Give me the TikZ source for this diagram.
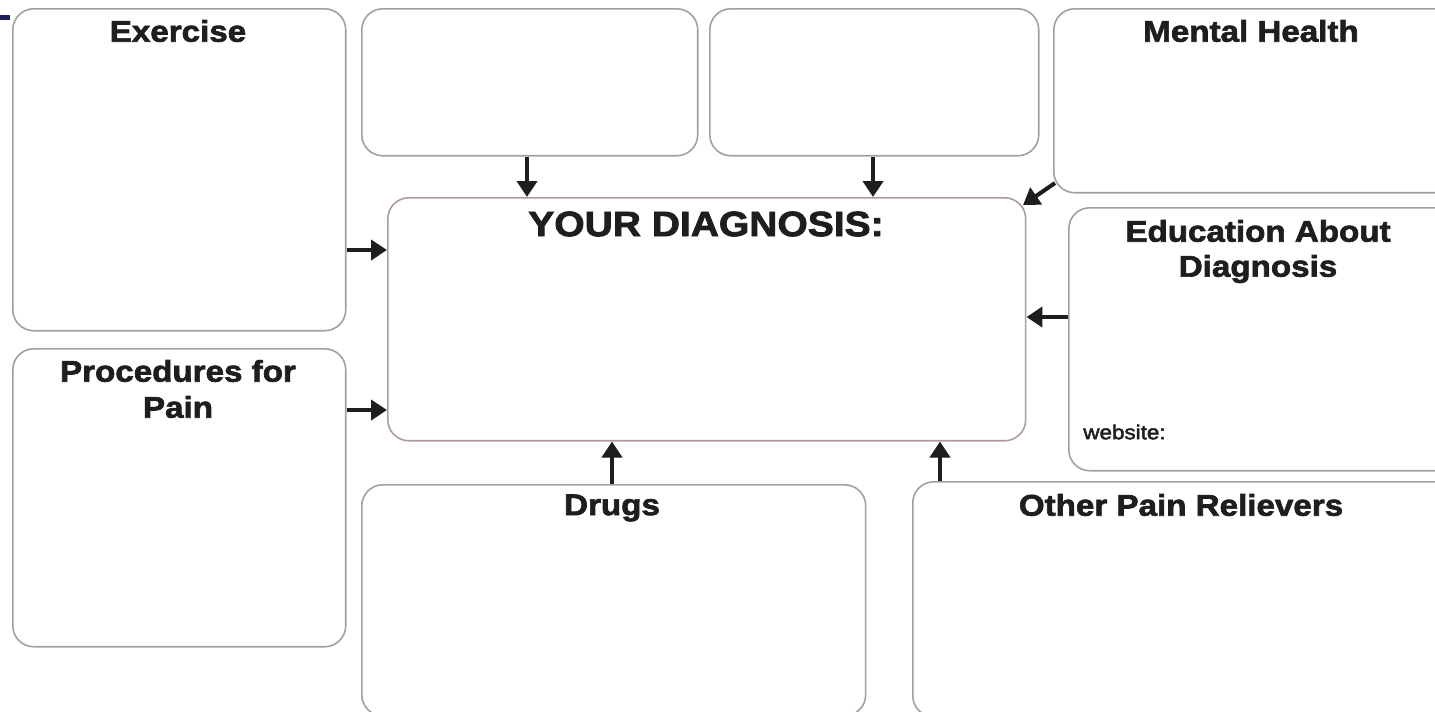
\documentclass[tikz,border=0pt]{standalone}
\usepackage{fontspec}
\setmainfont{Liberation Sans}[FakeStretch=1.11,BoldFeatures={FakeBold=2.2}]
\usetikzlibrary{arrows.meta,calc}
\definecolor{boxgray}{RGB}{160,160,160}
\definecolor{ctrline}{RGB}{175,155,155}
\definecolor{inkdark}{RGB}{30,30,30}
\definecolor{navymark}{RGB}{30,30,95}
\begin{document}
\begin{tikzpicture}[x=0.02cm,y=-0.02cm,
  panel/.style={draw=boxgray,line width=0.9pt,rounded corners=0.42cm,rectangle,anchor=north west,inner sep=0pt},
  ctrpanel/.style={draw=ctrline,line width=0.9pt,rounded corners=0.42cm,rectangle,anchor=north west,inner sep=0pt},
  ttl/.style={font=\bfseries\fontsize{17}{19}\selectfont,text=inkdark,align=center,inner sep=0pt},
  bigttl/.style={font=\bfseries\fontsize{20}{22}\selectfont,text=inkdark,inner sep=0pt},
  small/.style={font=\fontsize{11.5}{13}\selectfont\addfontfeature{FakeBold=2.2},text=inkdark,inner sep=0pt},
  arr/.style={draw=inkdark,line width=2.3pt,-{Triangle[length=3.2mm,width=4mm]}}
]
\useasboundingbox (0,0) rectangle (1435,711);
\clip (0,0) rectangle (1435,711);
\fill[white] (0,0) rectangle (1435,711);
\fill[navymark] (0,15) rectangle (10,20);
% boxes
\node[panel,minimum width=6.66cm,minimum height=6.44cm] (ex) at (12,8) {};
\node[panel,minimum width=6.72cm,minimum height=2.94cm] (b2) at (361,8) {};
\node[panel,minimum width=6.58cm,minimum height=2.94cm] (b3) at (709,8) {};
\node[panel,minimum width=8.2cm,minimum height=3.68cm] (mh) at (1053,8) {};
\node[ctrpanel,minimum width=12.76cm,minimum height=4.86cm] (ctr) at (387,197) {};
\node[panel,minimum width=7.9cm,minimum height=5.26cm] (edu) at (1068,207) {};
\node[panel,minimum width=6.66cm,minimum height=5.96cm] (proc) at (12,348) {};
\node[panel,minimum width=10.08cm,minimum height=4.62cm] (drugs) at (361,484) {};
\node[panel,minimum width=11.0cm,minimum height=4.7cm] (other) at (912,481) {};
% titles
\node[ttl] (tex) at (178,31) {Exercise};
\node[ttl] (tmh) at (1251,31) {Mental Health};
\node[bigttl] (tctr) at (706,224) {YOUR DIAGNOSIS:};
\node[ttl] (tedu1) at (1258,231) {Education About};
\node[ttl] (tedu2) at (1258,269) {Diagnosis};
\node[ttl] (tproc1) at (178,371) {Procedures for};
\node[ttl] (tproc2) at (178,407) {Pain};
\node[ttl] (tdrugs) at (612,508) {Drugs};
\node[ttl] (tother) at (1181,505) {Other Pain Relievers};
\node[small,anchor=west] (tweb) at (1083,432) {website:};
% arrows
\draw[arr] (ex.east |- 0,250) -- (ctr.west |- 0,250);
\draw[arr] (proc.east |- 0,410) -- (ctr.west |- 0,410);
\draw[arr] (b2.south -| 527,0) -- (ctr.north -| 527,0);
\draw[arr] (b3.south -| 873,0) -- (ctr.north -| 873,0);
\coordinate (mhs) at (1055,183);
\coordinate (ctrne) at (1023,205);
\draw[arr] (mhs) -- (ctrne);
\draw[arr] (edu.west |- 0,317) -- (ctr.east |- 0,317);
\draw[arr] (drugs.north -| 612,0) -- (ctr.south -| 612,0);
\draw[arr] (other.north -| 940,0) -- (ctr.south -| 940,0);
\end{tikzpicture}
\end{document}
